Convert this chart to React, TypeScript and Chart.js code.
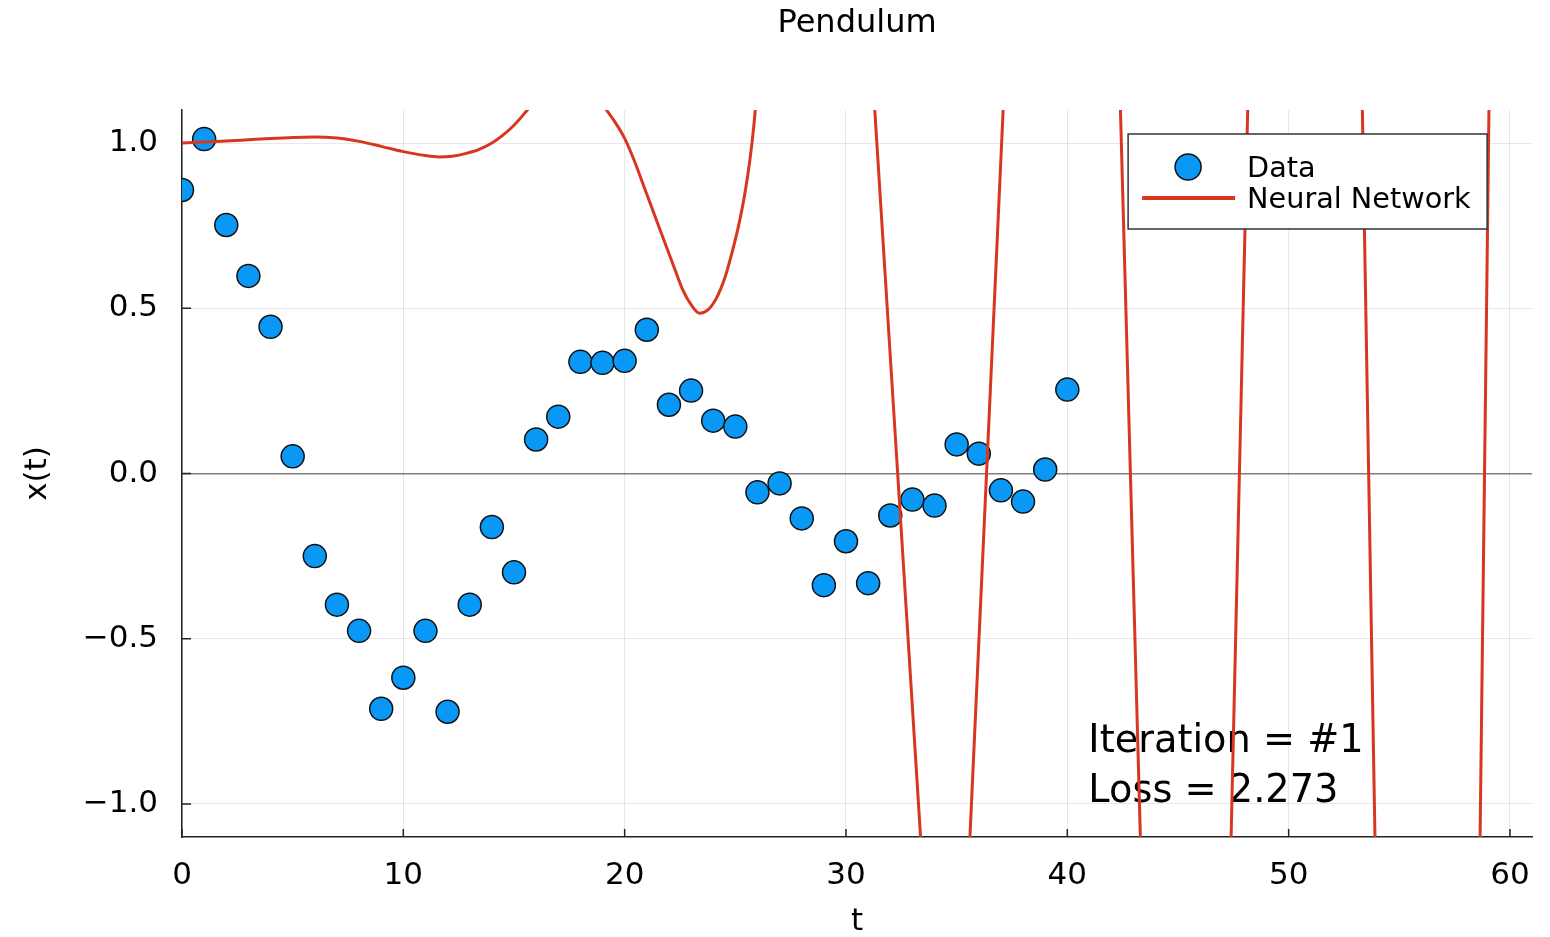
import React, { useEffect, useRef } from 'react';
import { Chart, registerables } from 'chart.js';

Chart.register(...registerables);

const FONT = 'DejaVu Sans';

// Observed pendulum data
const dataT = [0, 1, 2, 3, 4, 5, 6, 7, 8, 9, 10, 11, 12, 13, 14, 15, 16, 17, 18, 19, 20,
  21, 22, 23, 24, 25, 26, 27, 28, 29, 30, 31, 32, 33, 34, 35, 36, 37, 38, 39, 40];
const dataX = [0.858, 1.012, 0.752, 0.598, 0.444, 0.052, -0.250, -0.397, -0.476, -0.712, -0.618,
  -0.476, -0.721, -0.397, -0.162, -0.299, 0.103, 0.172, 0.338, 0.335, 0.341,
  0.435, 0.208, 0.251, 0.160, 0.142, -0.057, -0.030, -0.136, -0.338, -0.205,
  -0.332, -0.127, -0.079, -0.097, 0.088, 0.060, -0.051, -0.085, 0.012, 0.254];

// Neural network prediction (values outside the y range are clipped by the chart area)
const nnT = [0, 1, 2, 3, 4, 5, 6, 7, 8, 9, 10, 11, 11.6, 12.2, 12.8, 13.4, 14.0, 14.5, 15.0, 15.5, 16.0,
  17.3, 18.6, 19.18, 19.55, 20.0, 20.45, 20.9, 21.35, 21.8, 22.25, 22.63, 23.01, 23.39,
  23.76, 24.14, 24.52, 24.82, 25.12, 25.42, 25.65, 25.84, 25.9, 26.1,
  28.6, 31.112, 31.3, 33.37, 33.558, 34.5,
  35.464, 35.6, 37.1, 37.236, 39.8,
  42.318, 42.4, 43.3, 43.382, 45.4,
  47.332, 47.4, 48.15, 48.218, 50.7,
  53.278, 53.33, 53.9, 53.952, 56.3,
  58.614, 58.65, 59.05, 59.086, 61];
const nnX = [1.000, 1.003, 1.006, 1.010, 1.014, 1.017, 1.018, 1.015, 1.005, 0.990, 0.974, 0.962, 0.958,
  0.960, 0.968, 0.980, 1.000, 1.024, 1.054, 1.092, 1.14,
  1.45, 1.16, 1.100, 1.065, 1.014, 0.944, 0.863, 0.782, 0.701, 0.621, 0.555, 0.510, 0.485,
  0.495, 0.530, 0.591, 0.661, 0.742, 0.843, 0.944, 1.055, 1.100, 1.25,
  2.6, 1.30, 1.10, -1.10, -1.30, -2.2,
  -1.30, -1.10, 1.10, 1.30, 3.5,
  1.30, 1.10, -1.10, -1.30, -3.5,
  -1.30, -1.10, 1.10, 1.30, 3.8,
  1.30, 1.10, -1.10, -1.30, -4.0,
  -1.30, -1.10, 1.10, 1.30, 4.0];

const xTicks = [0, 10, 20, 30, 40, 50, 60];
const xTickLabels = ['0', '10', '20', '30', '40', '50', '60'];
const yTicks = [-1, -0.5, 0, 0.5, 1];
const yTickLabels = ['\u22121.0', '\u22120.5', '0.0', '0.5', '1.0'];

const titleText = 'Pendulum';
const xTitle = 't';
const yTitle = 'x(t)';
const legendLabels = ['Data', 'Neural Network'];
const annotationLines = ['Iteration = #1', 'Loss = 2.273'];
const annotationX = 40.95;
const annotationY = [-0.843, -0.994];

const BLUE = '#0a98f7';
const RED = '#d8371f';

const annotationPlugin = {
  id: 'annotationText',
  beforeDatasetsDraw(chart: any) {
    const { ctx, scales } = chart;
    ctx.save();
    ctx.font = `38.3px "${FONT}"`;
    ctx.fillStyle = '#000';
    ctx.textAlign = 'left';
    ctx.textBaseline = 'alphabetic';
    const px = scales.x.getPixelForValue(annotationX);
    annotationLines.forEach((line, i) => {
      ctx.fillText(line, px, scales.y.getPixelForValue(annotationY[i]));
    });
    ctx.restore();
  },
};

const tickMarkPlugin = {
  id: 'innerTicks',
  beforeDatasetsDraw(chart: any) {
    const { ctx, scales, chartArea } = chart;
    ctx.save();
    ctx.strokeStyle = '#222';
    ctx.lineWidth = 1.5;
    ctx.beginPath();
    xTicks.forEach((v) => {
      const px = scales.x.getPixelForValue(v);
      ctx.moveTo(px, chartArea.bottom);
      ctx.lineTo(px, chartArea.bottom - 8);
    });
    yTicks.forEach((v) => {
      const py = scales.y.getPixelForValue(v);
      ctx.moveTo(chartArea.left, py);
      ctx.lineTo(chartArea.left + 9, py);
    });
    ctx.stroke();
    ctx.restore();
  },
};

const legendPlugin = {
  id: 'boxLegend',
  afterDatasetsDraw(chart: any) {
    const { ctx, chartArea } = chart;
    const dsLine = chart.data.datasets[0];
    const dsData = chart.data.datasets[1];
    const right = chartArea.right - 45;
    const left = right - 359;
    const top = chartArea.top + 24;
    const h = 95;
    ctx.save();
    ctx.fillStyle = '#fff';
    ctx.fillRect(left, top, right - left, h);
    ctx.strokeStyle = '#333';
    ctx.lineWidth = 1.5;
    ctx.strokeRect(left, top, right - left, h);
    // marker
    ctx.beginPath();
    ctx.arc(left + 60, top + 33, 13, 0, Math.PI * 2);
    ctx.fillStyle = dsData.backgroundColor;
    ctx.fill();
    ctx.lineWidth = 1.5;
    ctx.strokeStyle = dsData.borderColor;
    ctx.stroke();
    // line
    ctx.beginPath();
    ctx.moveTo(left + 14, top + 64);
    ctx.lineTo(left + 107, top + 64);
    ctx.strokeStyle = dsLine.borderColor;
    ctx.lineWidth = 4;
    ctx.stroke();
    // labels
    ctx.font = `28.7px "${FONT}"`;
    ctx.fillStyle = '#000';
    ctx.textAlign = 'left';
    ctx.textBaseline = 'middle';
    ctx.fillText(legendLabels[0], left + 119, top + 36);
    ctx.fillText(legendLabels[1], left + 119, top + 67);
    ctx.restore();
  },
};

export default function App() {
  const ref = useRef<HTMLCanvasElement>(null);
  useEffect(() => {
    document.body.style.margin = '0';
    Chart.defaults.font.family = FONT;
    const canvas = ref.current;
    if (!canvas) return;
    const tickFont = { family: FONT, size: 31, weight: 'normal' as const };
    const chart = new Chart(canvas, {
      type: 'scatter',
      data: {
        datasets: [
          {
            label: legendLabels[1],
            data: nnT.map((t, i) => ({ x: t, y: nnX[i] })),
            showLine: true,
            borderColor: RED,
            backgroundColor: RED,
            borderWidth: 3,
            pointRadius: 0,
            pointHoverRadius: 0,
            cubicInterpolationMode: 'monotone',
            order: 0,
          } as any,
          {
            label: legendLabels[0],
            data: dataT.map((t, i) => ({ x: t, y: dataX[i] })),
            showLine: false,
            backgroundColor: BLUE,
            borderColor: '#111',
            borderWidth: 1.5,
            pointRadius: 11.5,
            pointHoverRadius: 11.5,
            order: 1,
          } as any,
        ],
      },
      options: {
        responsive: false,
        animation: false,
        devicePixelRatio: 1,
        events: [],
        layout: { padding: { left: 0, right: 17, top: 0, bottom: 0 } },
        plugins: {
          legend: { display: false },
          tooltip: { enabled: false },
          title: {
            display: true,
            text: titleText,
            fullSize: false,
            color: '#000',
            font: { family: FONT, size: 32, weight: 'normal' },
            padding: { top: 4.4, bottom: 67.2 },
          },
        },
        scales: {
          x: {
            type: 'linear',
            min: 0,
            max: 61,
            afterBuildTicks: (s: any) => {
              s.ticks = xTicks.map((v) => ({ value: v }));
            },
            afterFit: (s: any) => {
              s.height = 100;
            },
            ticks: {
              callback: (v: any) => xTickLabels[xTicks.indexOf(Number(v))],
              font: tickFont,
              color: '#000',
              padding: 20,
              maxRotation: 0,
              autoSkip: false,
            },
            grid: { color: 'rgba(0,0,0,0.09)', lineWidth: 1, drawTicks: false },
            border: { color: '#222', width: 1.5 },
            title: {
              display: true,
              text: xTitle,
              color: '#000',
              font: tickFont,
              padding: { top: 0, bottom: -4 },
            },
          },
          y: {
            type: 'linear',
            min: -1.1,
            max: 1.1,
            afterBuildTicks: (s: any) => {
              s.ticks = yTicks.map((v) => ({ value: v }));
            },
            afterFit: (s: any) => {
              s.width = 182;
            },
            ticks: {
              callback: (v: any) => yTickLabels[yTicks.indexOf(Number(v))],
              font: tickFont,
              color: '#000',
              padding: 24,
              autoSkip: false,
            },
            grid: {
              color: (c: any) => (c.tick && c.tick.value === 0 ? 'rgba(0,0,0,0.5)' : 'rgba(0,0,0,0.09)'),
              lineWidth: (c: any) => (c.tick && c.tick.value === 0 ? 1.5 : 1),
              drawTicks: false,
            },
            border: { color: '#222', width: 1.5 },
            title: {
              display: true,
              text: yTitle,
              color: '#000',
              font: tickFont,
              padding: { top: 19, bottom: 0 },
            },
          },
        },
      },
      plugins: [annotationPlugin, tickMarkPlugin, legendPlugin],
    });
    return () => chart.destroy();
  }, []);
  return (
    <div style={{ width: 1550, height: 937 }}>
      <canvas ref={ref} width={1550} height={937} style={{ display: 'block' }} />
    </div>
  );
}
